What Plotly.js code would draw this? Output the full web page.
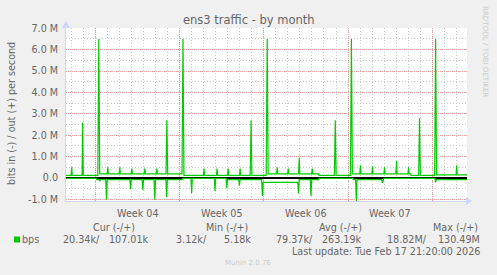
<!DOCTYPE html>
<html><head><meta charset="utf-8">
<script src="https://cdn.plot.ly/plotly-3.0.1.min.js"></script>
<style>html,body{margin:0;padding:0;background:#f0f0f0;}#chart{width:497px;height:275px;}</style>
</head><body><div id="chart"></div>
<script>
// time in days since 2026-01-01 00:00; values in Mbit/s
const outT = [14.56,14.98,15.03,15.08,15.89,15.94,15.99,17.2,17.28,17.36,17.98,18.03,18.08,18.98,19.03,19.08,19.98,20.03,20.08,21.06,21.11,21.16,22.06,22.11,22.16,22.87,22.94,23.01,24.2,24.28,24.36,25.98,26.03,26.08,27.06,27.11,27.16,27.98,28.03,28.08,28.98,29.03,29.08,29.87,29.94,30.01,31.2,31.28,31.36,32.06,32.11,32.16,32.98,33.03,33.08,33.89,33.94,33.99,34.98,35.03,35.08,35.53,35.58,36.87,36.94,37.01,38.2,38.28,38.36,38.98,39.03,39.08,39.98,40.03,40.08,40.98,41.03,41.08,41.98,42.03,42.08,42.98,43.03,43.08,43.19,43.24,43.87,43.94,44.01,45.2,45.28,45.36,46.98,47.03,47.08,47.89];
const outV = [0.13,0.13,0.5,0.13,0.13,2.6,0.13,0.13,6.5,0.2,0.2,0.5,0.2,0.2,0.5,0.2,0.2,0.45,0.2,0.2,0.45,0.2,0.2,0.45,0.2,0.2,2.7,0.2,0.2,6.5,0.13,0.13,0.45,0.13,0.13,0.45,0.13,0.13,0.45,0.13,0.13,0.45,0.13,0.13,2.7,0.13,0.13,6.5,0.2,0.2,0.5,0.2,0.2,0.45,0.2,0.2,0.95,0.2,0.2,0.45,0.2,0.2,0.13,0.13,2.7,0.13,0.13,6.5,0.2,0.2,0.6,0.2,0.2,0.55,0.2,0.2,0.5,0.2,0.2,0.8,0.2,0.2,0.5,0.2,0.2,0.13,0.13,2.8,0.13,0.13,6.5,0.15,0.15,0.6,0.15,0.15];
const inT = [14.56,17.06,17.11,17.31,17.36,17.41,17.86,17.92,17.98,19.86,19.92,19.98,20.88,20.94,21.0,21.88,21.94,22.0,22.86,22.92,22.98,24.2,24.25,24.94,25.0,25.06,26.88,26.94,27.0,27.86,27.92,27.98,28.91,28.97,29.03,30.82,30.88,30.94,33.82,33.88,33.94,34.86,34.92,34.98,35.53,35.58,38.4,38.45,38.63,38.69,38.75,40.8,40.86,40.92,40.94,40.99,45.22,45.28,45.34,47.89];
const inV = [-0.01,-0.01,-0.075,-0.075,-0.15,-0.075,-0.075,-1.0,-0.075,-0.075,-0.52,-0.075,-0.075,-0.56,-0.075,-0.075,-1.0,-0.075,-0.075,-0.88,-0.075,-0.075,-0.01,-0.01,-0.7,-0.01,-0.01,-0.6,-0.01,-0.01,-0.47,-0.075,-0.075,-0.36,-0.075,-0.075,-0.84,-0.2,-0.2,-0.72,-0.075,-0.075,-0.83,-0.075,-0.075,-0.01,-0.01,-0.07,-0.07,-1.07,-0.07,-0.07,-0.22,-0.07,-0.07,-0.01,-0.01,-0.2,-0.07,-0.07];
const yTickVals = [-1,0,1,2,3,4,5,6,7];
const yTickText = ["-1.0 M","0.0","1.0 M","2.0 M","3.0 M","4.0 M","5.0 M","6.0 M","7.0 M"];
const weekStarts = [17,24,31,38,45];
const weekMids = [20.5,27.5,34.5,41.5];
const weekLabels = ["Week 04","Week 05","Week 06","Week 07"];
const legendHeaders = ["Cur (-/+)","Min (-/+)","Avg (-/+)","Max (-/+)"];
const legendIn = ["20.34k/","3.12k/","79.37k/","18.82M/"];
const legendOut = ["107.01k","5.18k","263.19k","130.49M"];
const seriesName = "bps";
const lastUpdate = "Last update: Tue Feb 17 21:20:00 2026";

const L = 66, R = 467, T = 28, B = 201;
const X = px => (px - L) / (R - L);
const Y = py => (B - py) / (B - T);
const FONT = "DejaVu Sans";
const TXT = "#666666";
const GREEN = "#00cc00";
const AX = "#cfd6f8";
const MGRID = "#e8a0a0";
const GRID = "#c8c8c8";

const traces = [
  {x: outT, y: outV, type: 'scatter', mode: 'lines', line: {color: GREEN, width: 1.2}, hoverinfo: 'skip'},
  {x: inT, y: inV, type: 'scatter', mode: 'lines', line: {color: GREEN, width: 1.2}, hoverinfo: 'skip'}
];

const ann = [];
const t = (text, px, py, xa, size, color, extra) => ann.push(Object.assign({
  text: text, xref: 'paper', yref: 'paper', x: X(px), y: Y(py), xanchor: xa, yanchor: 'middle',
  showarrow: false, font: {family: FONT, size: size, color: color}
}, extra || {}));

t("ens3 traffic - by month", 248.5, 20, 'center', 11.5, TXT);
t("bits in (-) / out (+) per second", 11, 114, 'center', 9.6, TXT, {textangle: -90});
t("RRDTOOL / TOBI OETIKER", 486, 51, 'center', 7.1, "#cccccc", {textangle: 90});
t("Munin 2.0.76", 248, 263, 'center', 7, "#cccccc");
weekLabels.forEach((w, i) => ann.push({text: w, xref: 'x', yref: 'paper', x: weekMids[i], y: Y(213),
  xanchor: 'center', yanchor: 'middle', showarrow: false, font: {family: FONT, size: 9.6, color: TXT}}));
const hdrRight = [137, 250, 364, 480];
const inRight = [102, 209, 315, 429];
const outRight = [151, 253, 364, 482];
legendHeaders.forEach((h, i) => t(h, hdrRight[i], 227.5, 'right', 9.6, TXT));
legendIn.forEach((v, i) => t(v, inRight[i], 239.5, 'right', 9.6, TXT));
legendOut.forEach((v, i) => t(v, outRight[i], 239.5, 'right', 9.6, TXT));
t(seriesName, 19.5, 239.5, 'left', 9.6, TXT);
t(lastUpdate, 482, 251, 'right', 9.6, TXT);

const shapes = [
  {type: 'rect', xref: 'paper', yref: 'paper', x0: X(14), x1: X(20), y0: Y(242.5), y1: Y(236.5), fillcolor: GREEN, line: {width: 0}},
  {type: 'path', xref: 'paper', yref: 'paper', path: `M ${X(466)} ${Y(197)} L ${X(472)} ${Y(201)} L ${X(466)} ${Y(205)} Z`, fillcolor: AX, line: {width: 0}},
  {type: 'path', xref: 'paper', yref: 'paper', path: `M ${X(62)} ${Y(28)} L ${X(66)} ${Y(21)} L ${X(70)} ${Y(28)} Z`, fillcolor: AX, line: {width: 0}}
];

const layout = {
  width: 497, height: 275,
  margin: {l: L, r: 497 - R, t: T, b: 275 - B, pad: 0},
  paper_bgcolor: '#f0f0f0', plot_bgcolor: '#ffffff',
  showlegend: false,
  font: {family: FONT, size: 9.6, color: TXT},
  xaxis: {
    range: [14.556, 47.889], tickmode: 'array', tickvals: weekStarts, showticklabels: false, ticks: '',
    showgrid: true, gridcolor: MGRID, griddash: '1px,1px', gridwidth: 1,
    minor: {tick0: 0, dtick: 1, showgrid: true, gridcolor: GRID, griddash: '1px,2px', gridwidth: 1},
    zeroline: false, showline: true, linecolor: AX, linewidth: 1, fixedrange: true
  },
  yaxis: {
    range: [-1.07, 7.01], tickmode: 'array', tickvals: yTickVals, ticktext: yTickText, ticks: '',
    ticklabelstandoff: 5, tickfont: {family: FONT, size: 9.6, color: TXT},
    showgrid: true, gridcolor: MGRID, griddash: '1px,1px', gridwidth: 1,
    minor: {tick0: 0, dtick: 0.5, showgrid: true, gridcolor: GRID, griddash: '1px,2px', gridwidth: 1},
    zeroline: true, zerolinecolor: '#000000', zerolinewidth: 1.2,
    showline: true, linecolor: AX, linewidth: 1, fixedrange: true
  },
  annotations: ann,
  shapes: shapes
};
Plotly.newPlot('chart', traces, layout, {staticPlot: true, displayModeBar: false});
</script></body></html>
